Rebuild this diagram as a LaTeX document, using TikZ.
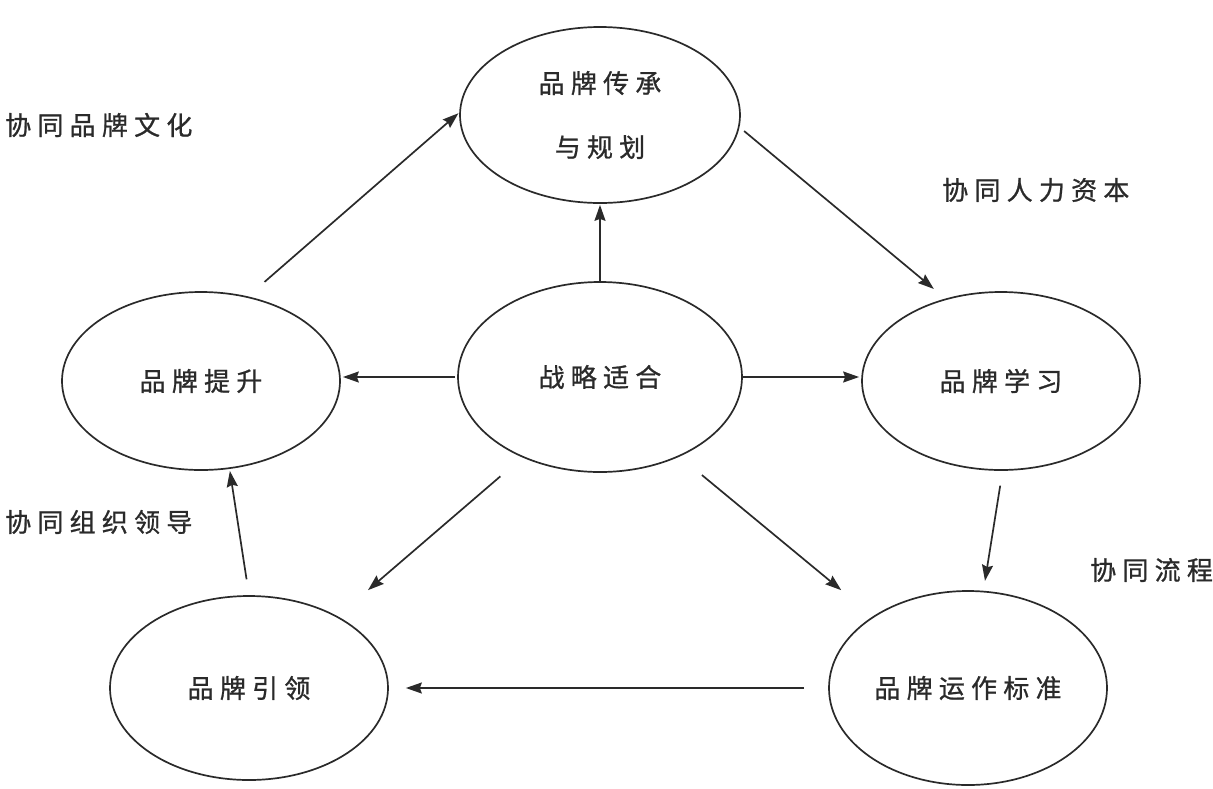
\documentclass[tikz,border=0pt]{standalone}
\usepackage{fontspec}
\setmainfont{Noto Sans CJK SC}[LetterSpace=24.0,FakeBold=0.9]
\usetikzlibrary{shapes.geometric,arrows.meta,calc}
\definecolor{ink}{HTML}{2A2A2A}
\tikzset{
  oval/.style={ellipse,draw=ink,line width=1.7pt,inner sep=0pt,text=ink,
    font=\fontsize{26}{64}\selectfont,align=center},
  lbl/.style={anchor=west,inner sep=0pt,text=ink,font=\fontsize{26}{30}\selectfont},
  arr/.style={draw=ink,line width=1.7pt,-{Stealth[length=16pt,width=11pt,inset=2pt]}}
}
\begin{document}
\begin{tikzpicture}[x=1pt,y=-1pt]
\useasboundingbox (0,0) rectangle (1213,788);
\node[oval,minimum width=280pt,minimum height=176pt] (t) at (600,115) {品牌传承\\与规划};
\node[oval,minimum width=284pt,minimum height=190pt] (c) at (600,377) {战略适合};
\node[oval,minimum width=278pt,minimum height=178pt] (l) at (201,381) {品牌提升};
\node[oval,minimum width=278pt,minimum height=178pt] (r) at (1001,381) {品牌学习};
\node[oval,minimum width=278pt,minimum height=184pt] (bl) at (249,688) {品牌引领};
\node[oval,minimum width=278pt,minimum height=194pt] (br) at (968,688) {品牌运作标准};
\node[lbl] (lab1) at (5,125) {协同品牌文化};
\node[lbl] (lab2) at (942,190) {协同人力资本};
\node[lbl] (lab3) at (5,522) {协同组织领导};
\node[lbl] (lab4) at (1090,570) {协同流程};
% arrows from the centre
\draw[arr,shorten >=1pt] (c.north) -- (t.south);
\draw[arr,shorten <=2pt,shorten >=2pt] (c.west) -- (l.east |- c.west);
\draw[arr,shorten >=2pt] (c.east) -- (r.west |- c.east);
\draw[arr,shorten <=29pt,shorten >=40pt] (c.226) -- (bl.39);
\draw[arr,shorten <=29pt,shorten >=41pt] (c.315) -- (br.143);
% cycle
\draw[arr,shorten <=22pt,shorten >=1pt] (l.61) -- (t.179);
\draw[arr,shorten <=6pt,shorten >=15pt] (t.355) -- (r.124);
\draw[arr,shorten <=15pt,shorten >=10pt] (r.271) -- (br.81);
\draw[arr,shorten <=24pt,shorten >=17pt] (br.west) -- (bl.east |- br.west);
\draw[arr,shorten <=16pt,shorten >=2pt] (bl.90) -- (l.288);
\end{tikzpicture}
\end{document}
